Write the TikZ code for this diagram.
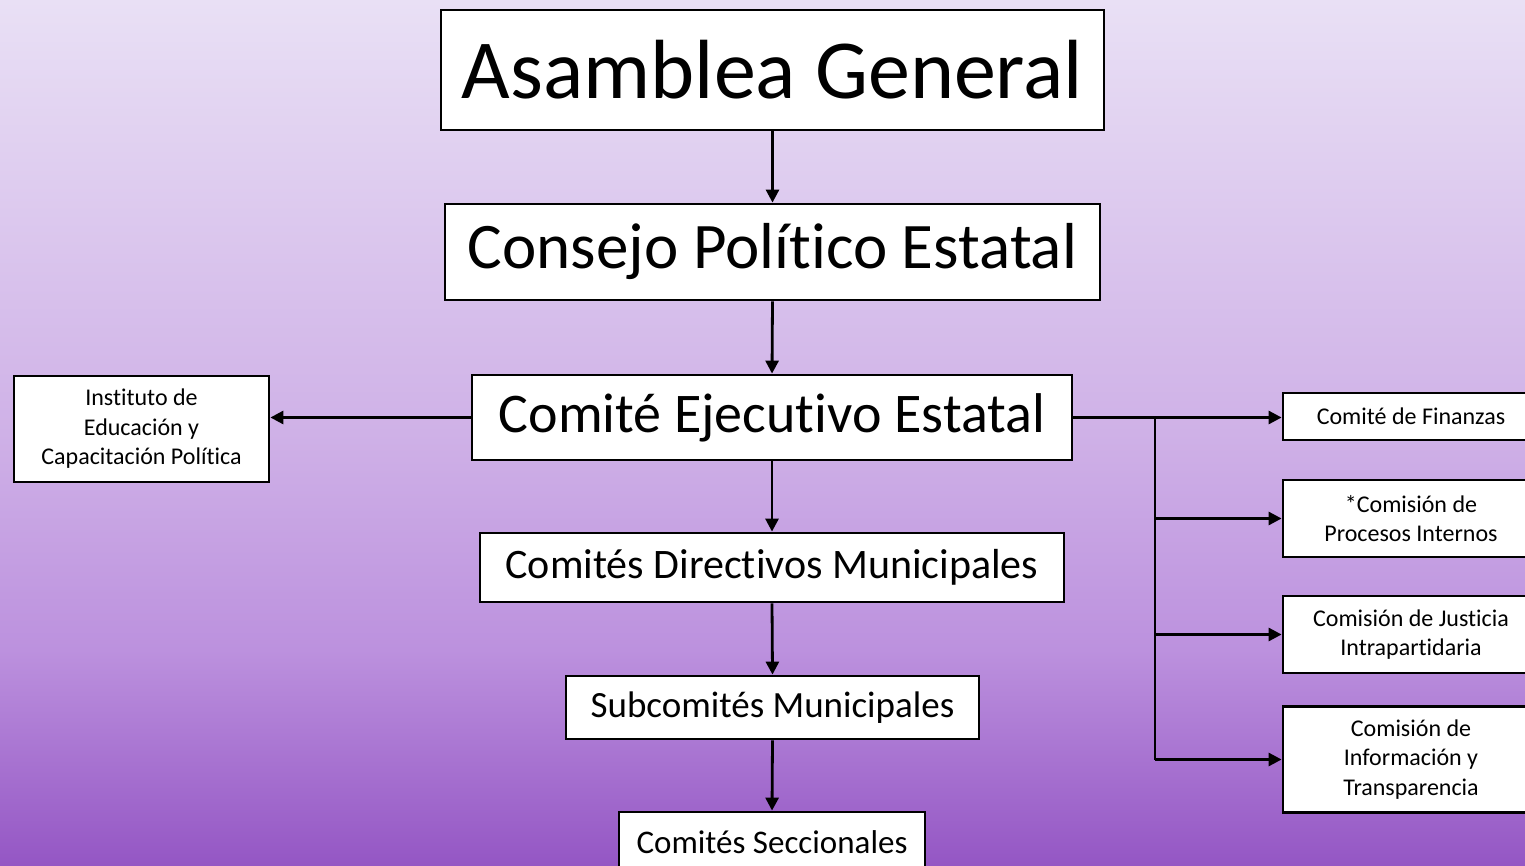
\documentclass[tikz,border=0pt]{standalone}
\usepackage{fontspec}
\setmainfont{Carlito}[Ligatures=NoCommon]
\usetikzlibrary{arrows.meta}

\definecolor{bgtop}{RGB}{233,224,245}
\definecolor{bgmid}{RGB}{207,177,231}
\definecolor{bglow}{RGB}{188,145,222}
\definecolor{bgbot}{RGB}{148,86,196}
\pgfdeclareverticalshading{bgpurple}{100bp}{color(0bp)=(bgbot); color(25bp)=(bgbot); color(37.5bp)=(bglow); color(50bp)=(bgmid); color(75bp)=(bgtop); color(100bp)=(bgtop)}

\begin{document}
\begin{tikzpicture}[x=1pt, y=-1pt,
		box/.style={draw, line width=2.8pt, fill=white, inner sep=0pt, align=center},
		link/.style={line width=2.8pt, -{Triangle[length=13pt,width=13pt]}},
		trunk/.style={line width=2.8pt}]
				\useasboundingbox (0,0) rectangle (1525,866);
				\clip (0,0) rectangle (1525,866);
				\shade[shading=bgpurple] (0,0) rectangle (1525,866);
				% main chain
				\node[box, minimum width=663pt, minimum height=120pt, font=\fontsize{84}{90}\selectfont] (AG)at(772.5, 70) {Asamblea General};
				\node[box, minimum width=655pt, minimum height=96pt, font=\fontsize{65}{70}\selectfont] (CPE)at(772.5, 252) {\raisebox{-4pt}{Consejo Político Estatal}};
				\node[box, minimum width=600pt, minimum height=85pt, font=\fontsize{56}{60}\selectfont] (CEE)at(772, 417.5) {\raisebox{-3pt}{Comité Ejecutivo Estatal}};
				\node[box, minimum width=584pt, minimum height=69pt, font=\fontsize{42}{46}\selectfont] (CDM)at(772, 567.5) {\raisebox{-3pt}{Comités Directivos Municipales}};
				\node[box, minimum width=413pt, minimum height=63pt, font=\fontsize{37}{40}\selectfont] (SM)at(772.5, 707.5) {\raisebox{-2pt}{Subcomités Municipales}};
				\node[box, minimum width=306pt, minimum height=60pt, font=\fontsize{33}{36}\selectfont] (CS)at(772, 842) {Comités Seccionales};
				% side boxes
				\node[box, minimum width=255pt, minimum height=106pt, font=\fontsize{24}{29.5}\selectfont] (IECP)at(141.5, 429) {Instituto de\\Educación y\\Capacitación Política};
				\node[box, minimum width=256pt, minimum height=47pt, font=\fontsize{24}{29.5}\selectfont] (CF)at(1411, 416.5) {Comité de Finanzas};
				\node[box, minimum width=256pt, minimum height=77pt, font=\fontsize{24}{29.5}\selectfont] (CPI)at(1411, 518.5) {*Comisión de\\Procesos Internos};
				\node[box, minimum width=256pt, minimum height=77pt, font=\fontsize{24}{29.5}\selectfont] (CJI)at(1411, 634.5) {Comisión de Justicia\\Intrapartidaria};
				\node[box, minimum width=256pt, minimum height=106pt, font=\fontsize{24}{29.5}\selectfont] (CIT)at(1411, 759.5) {Comisión de\\Información y\\Transparencia};
				\coordinate (split) at (1155, 417);
				% connectors
				\draw[link] (AG.south) -- (CPE.north);
				\draw[link] (CPE.south) -- (CEE.north);
				\draw[link] (CEE.south) -- (CDM.north);
				\draw[link] (CDM.south) -- (SM.north);
				\draw[link] (SM.south) -- (CS.north);
				\draw[link] (CEE.west) -- (CEE.west -| IECP.east);
				\draw[link] (CEE.east) -- (CEE.east -| CF.west);
				\draw[trunk] (split) -- (split |- CIT.west);
				\draw[link] (split |- CPI.west) -- (CPI.west);
				\draw[link] (split |- CJI.west) -- (CJI.west);
				\draw[link] (split |- CIT.west) -- (CIT.west);
			\end{tikzpicture}
\end{document}
